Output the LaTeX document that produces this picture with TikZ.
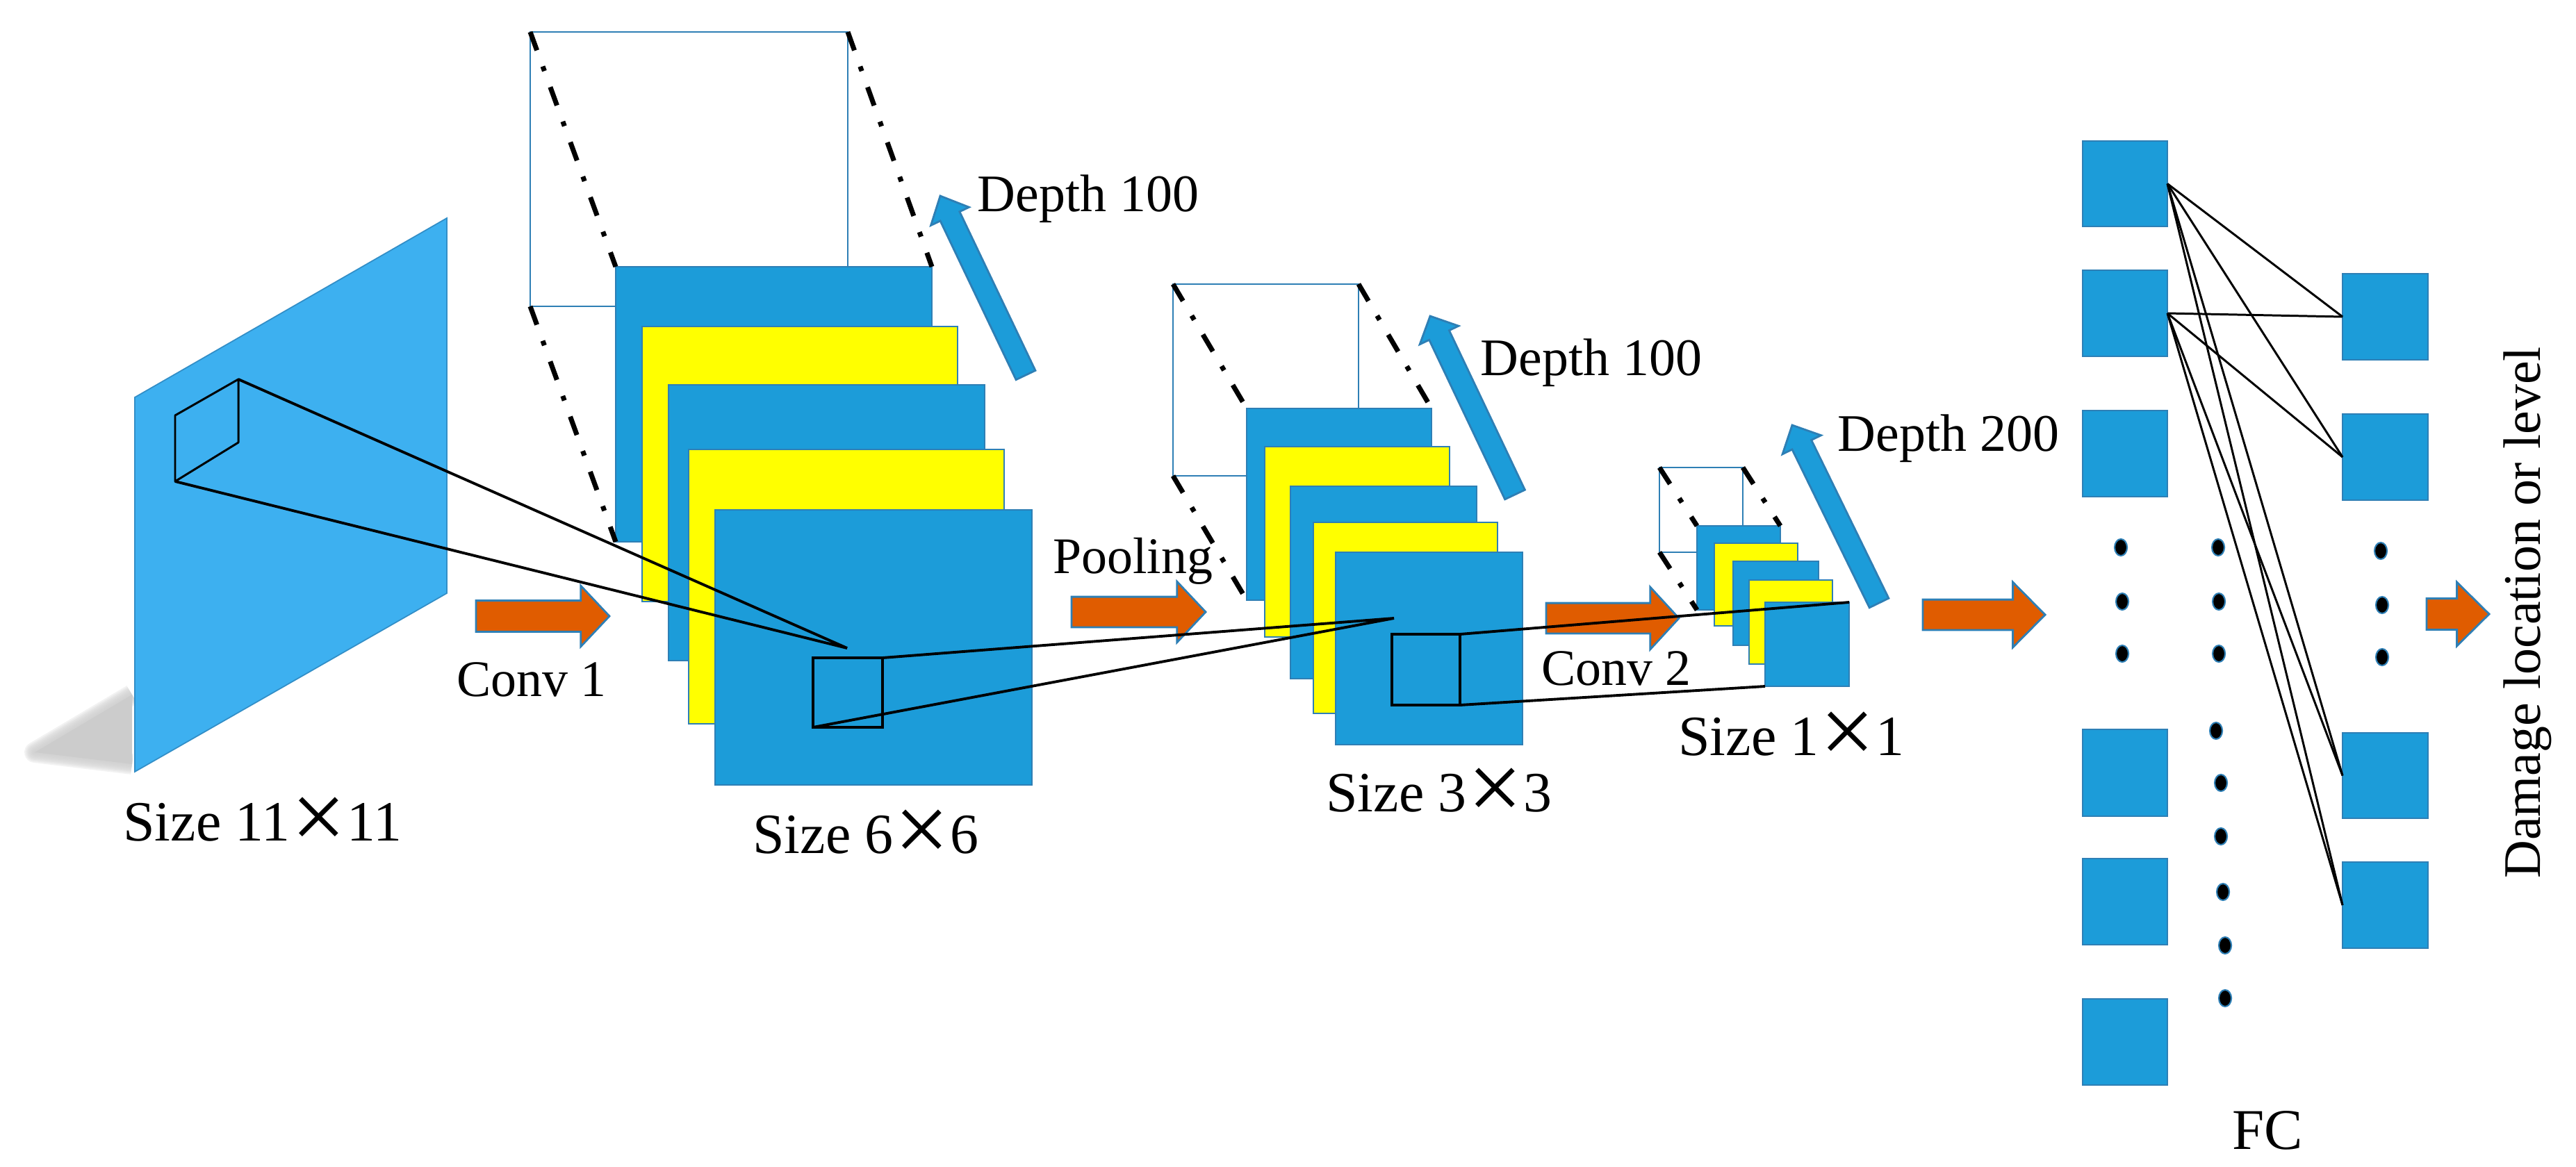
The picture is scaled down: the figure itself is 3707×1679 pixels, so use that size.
\documentclass[tikz,border=0pt]{standalone}
\usepackage{fontspec}
\usepackage{graphicx}
\setmainfont{Liberation Serif}
\usetikzlibrary{shapes.arrows}
\definecolor{cblue}{HTML}{1C9CD9}
\definecolor{cplane}{HTML}{3DB0F0}
\definecolor{cedge}{HTML}{2E7FB5}
\definecolor{corange}{HTML}{E05C00}
\definecolor{cshadow}{HTML}{CCCCCC}
\definecolor{cyellow}{HTML}{FFFF00}
\tikzset{
  bluebox/.style={draw=cedge,fill=cblue,line width=0.6pt,inner sep=0pt,outer sep=0pt},
  yellowbox/.style={draw=cedge,fill=cyellow,line width=0.6pt,inner sep=0pt,outer sep=0pt},
  wirebox/.style={draw=cedge,line width=0.8pt,inner sep=0pt,outer sep=0pt},
  markbox/.style={draw=black,line width=1.1pt,inner sep=0pt,outer sep=0pt},
  orangearrow/.style={draw=cedge,fill=corange,line width=0.8pt},
  bluearrow/.style={draw=cedge,fill=cblue,line width=0.8pt},
  dashdot/.style={line width=2pt,dash pattern=on 8pt off 7pt on 2pt off 7pt},
  cone/.style={line width=1.1pt},
  link/.style={line width=0.85pt},
  dotmark/.style={draw=cedge,fill=black,line width=0.6pt},
  lab/.style={inner sep=0pt,outer sep=0pt,anchor=base},
}
\newcommand{\bx}[6]{%
  \pgfmathsetmacro\bxw{(#5-#3)*0.01}\pgfmathsetmacro\bxh{(#6-#4)*0.01}%
  \node[#2,minimum width=\bxw cm,minimum height=\bxh cm,anchor=north west] (#1) at (#3,#4) {};}
% name, style, tail x, tail y, tip x, tip y, head w, shaft w, head len
\newcommand{\blockarrow}[9]{%
  \pgfmathsetmacro\baL{veclen(#5-#3,#6-#4)*0.01}%
  \pgfmathsetmacro\baA{atan2(#4-#6,#5-#3)}%
  \pgfmathsetmacro\baT{2*atan(#7/2/#9)}%
  \pgfmathsetmacro\baE{(#7-#8)/2*0.01}%
  \pgfmathsetmacro\baW{#7*0.01}%
  \pgfmathsetmacro\baS{#8*0.01}%
  \node[#2,shape=single arrow,inner sep=0pt,outer sep=0pt,minimum height=\baL cm,minimum width=\baW cm,
    single arrow head extend=\baE cm,single arrow tip angle=\baT,anchor=tail,rotate=\baA] (#1) at (#3,#4) {\rule{0pt}{\baS cm}};}
\newcommand{\fnt}[1]{\fontsize{#1}{#1}\selectfont}
\newcommand{\tms}{\makebox[1em]{\raisebox{-0.155em}{\scalebox{1.7}{×}}}}
\begin{document}
\begin{tikzpicture}[x=0.01cm,y=-0.01cm]
\useasboundingbox (0,0) rectangle (3707,1679);
% shadow
\coordinate (s1) at (190,1000); \coordinate (s2) at (50,1083); \coordinate (s3) at (190,1100);
\foreach \w in {8.5pt,7.3pt,6.1pt,4.9pt,3.7pt,2.5pt,1.3pt}
  \draw[cshadow,line width=\w,opacity=0.25,line join=round] (s1) -- (s2) -- (s3);
\fill[cshadow] (s1) -- (s2) -- (s3) -- cycle;
% input plane
\coordinate (pTL) at (194,572); \coordinate (pTR) at (643,314);
\coordinate (pBR) at (643,854); \coordinate (pBL) at (194,1111);
\draw[cedge!70!cplane,fill=cplane,line width=0.5pt] (pTL) -- (pTR) -- (pBR) -- (pBL) -- cycle;
\coordinate (wA) at (343,546); \coordinate (wB) at (252,598);
\coordinate (wC) at (252,693); \coordinate (wD) at (343,637);
\draw[line width=0.85pt,line join=round] (wA) -- (wB) -- (wC) -- (wD) -- cycle;

% stack 1
\bx{w1}{wirebox}{763}{46}{1220}{441}
\bx{a1}{bluebox}{886}{384}{1341}{780}
\bx{a2}{yellowbox}{924}{470}{1378}{866}
\bx{a3}{bluebox}{962}{554}{1417}{951}
\bx{a4}{yellowbox}{991}{647}{1445}{1042}
\bx{a5}{bluebox}{1029}{734}{1485}{1130}
\draw[dashdot] (w1.north west) -- (a1.north west);
\draw[dashdot] (w1.north east) -- (a1.north east);
\draw[dashdot] (w1.south west) -- (a1.south west);
\bx{am}{markbox}{1170}{947}{1270}{1047}
\coordinate (apexA) at (1219,933);

% stack 2
\bx{w2}{wirebox}{1688}{409}{1955}{685}
\bx{b1}{bluebox}{1794}{588}{2060}{864}
\bx{b2}{yellowbox}{1820}{643}{2086}{917}
\bx{b3}{bluebox}{1857}{700}{2125}{977}
\bx{b4}{yellowbox}{1890}{752}{2155}{1027}
\bx{b5}{bluebox}{1922}{795}{2191}{1072}
\draw[dashdot] (w2.north west) -- (b1.north west);
\draw[dashdot] (w2.north east) -- (b1.north east);
\draw[dashdot] (w2.south west) -- (b1.south west);
\bx{bm}{markbox}{2003}{913}{2101}{1015}
\coordinate (apexB) at (2006,890);

% stack 3
\bx{w3}{wirebox}{2388}{673}{2508}{795}
\bx{c1}{bluebox}{2442}{757}{2562}{878}
\bx{c2}{yellowbox}{2467}{782}{2587}{901}
\bx{c3}{bluebox}{2494}{808}{2617}{929}
\bx{c4}{yellowbox}{2517}{835}{2637}{956}
\bx{c5}{bluebox}{2540}{867}{2661}{988}
\draw[dashdot] (w3.north west) -- (c1.north west);
\draw[dashdot] (w3.north east) -- (c1.north east);
\draw[dashdot] (w3.south west) -- (c1.south west);

% block arrows
\blockarrow{o1}{orangearrow}{685}{887}{877}{887}{85}{42}{40}
\blockarrow{o2}{orangearrow}{1542}{881}{1735}{881}{85}{41}{40}
\blockarrow{o3}{orangearrow}{2225}{890}{2416}{890}{87}{41}{40}
\blockarrow{o4}{orangearrow}{2767}{885}{2943}{885}{91}{41}{45}
\blockarrow{o5}{orangearrow}{3492}{884}{3582}{884}{89}{42}{45}
\blockarrow{d1}{bluearrow}{1476}{540}{1353}{282}{58}{28}{31}
\blockarrow{d2}{bluearrow}{2180}{712}{2058}{455}{59}{29}{29}
\blockarrow{d3}{bluearrow}{2704}{868}{2579}{612}{59}{28}{30}

% cones
\draw[cone] (wA) -- (apexA) -- (wC);
\draw[cone] (am.north east) -- (apexB) -- (am.south west);
\draw[cone] (bm.north east) -- (c5.north east);
\draw[cone] (bm.south west) -- (bm.south east) -- (c5.south west);

% FC layers
\bx{L1}{bluebox}{2997}{203}{3119}{326}
\bx{L2}{bluebox}{2997}{389}{3119}{513}
\bx{L3}{bluebox}{2997}{591}{3119}{715}
\bx{L4}{bluebox}{2997}{1050}{3119}{1175}
\bx{L5}{bluebox}{2997}{1236}{3119}{1360}
\bx{L6}{bluebox}{2997}{1438}{3119}{1562}
\bx{R1}{bluebox}{3371}{394}{3494}{518}
\bx{R2}{bluebox}{3371}{596}{3494}{720}
\bx{R3}{bluebox}{3371}{1055}{3494}{1178}
\bx{R4}{bluebox}{3371}{1241}{3494}{1365}
\foreach \s in {L1,L2}
  \foreach \t in {R1,R2,R3,R4}
    \draw[link] (\s.east) -- (\t.west);
\foreach \p in {(3052,788),(3054,866),(3054,941),
  (3192,788),(3193,866),(3193,941),(3189,1052),(3196,1127),(3196,1204),(3199,1284),(3202,1361),(3202,1437),
  (3426,793),(3428,871),(3428,946)}
  \draw[dotmark] \p ellipse [x radius=9,y radius=12];

% labels
\node[lab,font=\fnt{23.3}] (t1) at (378,1210) {Size 11\tms11};
\node[lab,font=\fnt{23.3}] (t2) at (1246,1228) {Size 6\tms6};
\node[lab,font=\fnt{23.3}] (t3) at (2071,1168) {Size 3\tms3};
\node[lab,font=\fnt{23.3}] (t4) at (2578,1087) {Size 1\tms1};
\node[lab,font=\fnt{21}] (t5) at (765,1002) {Conv 1};
\node[lab,font=\fnt{21}] (t6) at (2326,986) {Conv 2};
\node[lab,font=\fnt{21}] (t7) at (1630,825) {Pooling};
\node[lab,font=\fnt{21.6}] (t8) at (1566,304) {Depth 100};
\node[lab,font=\fnt{21.6}] (t9) at (2290,540) {Depth 100};
\node[lab,font=\fnt{21.6}] (t10) at (2804,649) {Depth 200};
\node[lab,font=\fnt{23.6}] (t11) at (3263,1654) {FC};
\node[lab,font=\fnt{21.6},rotate=90] (t12) at (3655,882) {Damage location or level};
\end{tikzpicture}
\end{document}
